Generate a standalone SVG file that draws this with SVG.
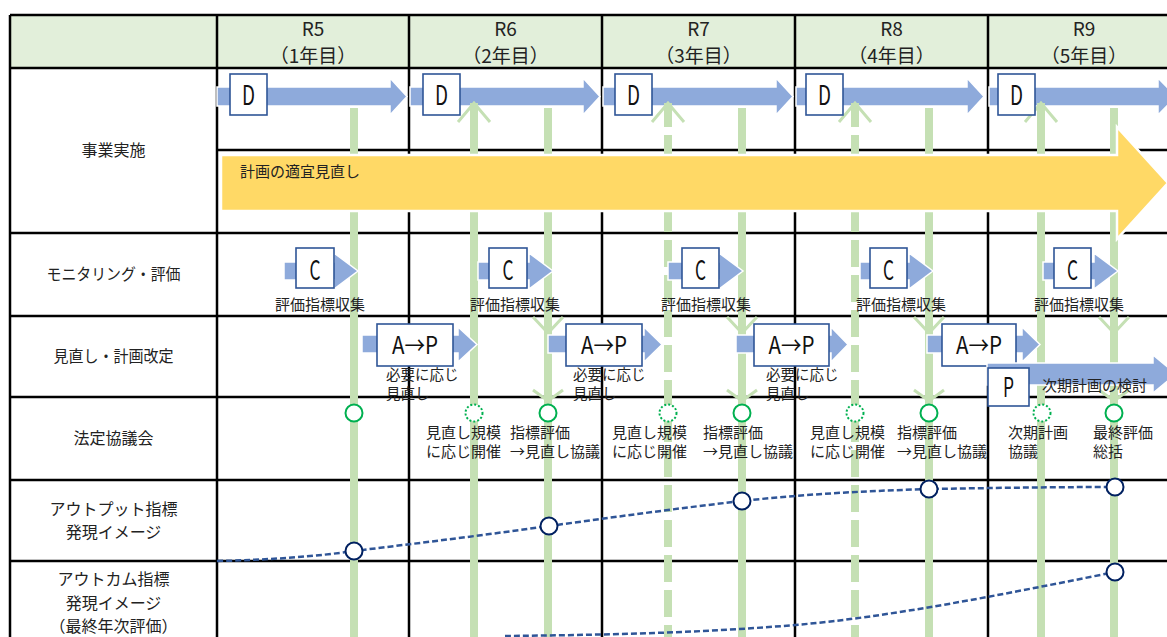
<svg xmlns="http://www.w3.org/2000/svg" width="1167" height="637" viewBox="0 0 1167 637">
<style>
.grid{stroke:#000;stroke-width:2.5;fill:none}
.gl{stroke:#c5e0b4;stroke-width:8;fill:none}
.gld{stroke:#c5e0b4;stroke-width:8;fill:none;stroke-dasharray:27 8;stroke-dashoffset:3}
.chev{stroke:#c5e0b4;stroke-width:3;fill:none}
.barrow{fill:#8eaadb;stroke:#fff;stroke-width:1.5}
.box{fill:#fff;stroke:#2f5597;stroke-width:1.6}
.bt{font-family:"Noto Sans CJK JP","Noto Sans",sans-serif;font-size:27px;fill:#111;text-anchor:middle}
.bta{font-family:"Noto Sans CJK JP","Noto Sans",sans-serif;font-size:24px;fill:#111;text-anchor:middle}
.t{font-family:"Noto Sans CJK JP","Noto Sans",sans-serif;font-size:15px;fill:#222}
.ts{font-family:"Noto Sans CJK JP","Noto Sans",sans-serif;font-size:14.5px;fill:#222}
.lab{font-family:"Noto Sans CJK JP","Noto Sans",sans-serif;font-size:16px;fill:#222;text-anchor:middle}
.hd{font-family:"Noto Sans CJK JP","Noto Sans",sans-serif;font-size:19px;fill:#222;text-anchor:middle}
.gc{fill:#fff;stroke:#00b050;stroke-width:2}
.gcd{fill:#fff;stroke:#00b050;stroke-width:2;stroke-dasharray:2 2}
.nc{fill:#fff;stroke:#002060;stroke-width:2}
.curve{fill:none;stroke:#2f5597;stroke-width:2.5;stroke-dasharray:6 3}
</style>
<rect x="0" y="0" width="1167" height="637" fill="#fff"/>
<g id="table">
<rect x="10" y="15" width="1160" height="53" fill="#e2efda"/>
<path class="grid" d="M10,15H1167M10,68H1167M217,150H1167M10,233H1167M10,316H1167M10,397H1167M10,480H1167M10,561H1167M10,15V637M217,15V637M409,15V637M602,15V637M795,15V637M988,15V637"/>
</g>
<g id="header">
<text class="hd" x="313" y="36">R5</text><text class="hd" x="313" y="63">（1年目）</text>
<text class="hd" x="505.5" y="36">R6</text><text class="hd" x="505.5" y="63">（2年目）</text>
<text class="hd" x="698.5" y="36">R7</text><text class="hd" x="698.5" y="63">（3年目）</text>
<text class="hd" x="891.5" y="36">R8</text><text class="hd" x="891.5" y="63">（4年目）</text>
<text class="hd" x="1084" y="36">R9</text><text class="hd" x="1084" y="63">（5年目）</text>
</g>
<g id="row-labels">
<text class="lab" x="113.5" y="156">事業実施</text>
<text class="lab" x="113.5" y="280" textLength="134" lengthAdjust="spacingAndGlyphs">モニタリング・評価</text>
<text class="lab" x="113.5" y="362" textLength="120" lengthAdjust="spacingAndGlyphs">見直し・計画改定</text>
<text class="lab" x="113.5" y="444">法定協議会</text>
<text class="lab" x="113.5" y="515">アウトプット指標</text>
<text class="lab" x="113.5" y="538">発現イメージ</text>
<text class="lab" x="113.5" y="585">アウトカム指標</text>
<text class="lab" x="113.5" y="609">発現イメージ</text>
<text class="lab" x="113.5" y="632">（最終年次評価）</text>
</g>
<g id="d-arrows">
<path class="barrow" d="M217,87H390V78L407,96.5L390,115V106H217Z"/>
<path class="barrow" d="M410,87H583V78L600,96.5L583,115V106H410Z"/>
<path class="barrow" d="M603,87H776V78L793,96.5L776,115V106H603Z"/>
<path class="barrow" d="M796,87H967V78L984,96.5L967,115V106H796Z"/>
<path class="barrow" d="M989,87H1158V78L1176,96.5L1158,115V106H989Z"/>
</g>
<g id="connectors">
<path class="gl" d="M354,108V637M548,108V637M742,108V637M929,108V637M1114,108V637M474,103V637M1041,103V637"/>
<path class="gld" d="M668,103V637M855,103V637"/>
<path class="chev" d="M458,122L474,103L490,122M652,122L668,103L684,122M839,122L855,103L871,122M1025,122L1041,103L1057,122"/>
<path class="chev" d="M533,317L548,333L563,317M727,317L742,333L757,317M914,317L929,333L944,317M1099,317L1114,333L1129,317"/>
<path class="chev" d="M533,390L548,401L563,390M727,390L742,401L757,390M914,390L929,401L944,390M1099,390L1114,401L1129,390"/>
<path class="curve" d="M217,561C270,560 320,556 354,551C420,543 485,535 549,526C615,517 680,508 742,501C805,494 866,491 929,489C990,488 1050,487 1115,487"/>
<path class="curve" d="M505,636C600,635 700,633 795,625S1000,595 1115,572"/>
</g>
<g id="d-boxes">
<g id="d1"><rect class="box" x="230" y="74" width="37" height="41"/><text class="bt" x="248.5" y="105" textLength="13" lengthAdjust="spacingAndGlyphs">D</text></g>
<g id="d2"><rect class="box" x="423" y="74" width="37" height="41"/><text class="bt" x="441.5" y="105" textLength="13" lengthAdjust="spacingAndGlyphs">D</text></g>
<g id="d3"><rect class="box" x="615" y="74" width="37" height="41"/><text class="bt" x="633.5" y="105" textLength="13" lengthAdjust="spacingAndGlyphs">D</text></g>
<g id="d4"><rect class="box" x="806" y="74" width="37" height="41"/><text class="bt" x="824.5" y="105" textLength="13" lengthAdjust="spacingAndGlyphs">D</text></g>
<g id="d5"><rect class="box" x="998" y="74" width="37" height="41"/><text class="bt" x="1016.5" y="105" textLength="13" lengthAdjust="spacingAndGlyphs">D</text></g>
</g>
<g id="plan-review">
<path d="M221,155H1117V127L1168,183L1117,239V211H221Z" fill="#ffd966" stroke="#fff" stroke-width="2.5"/>
<text class="t" x="240" y="177">計画の適宜見直し</text>
</g>
<g id="c-nodes">
<g id="c1"><path class="barrow" d="M284,262H334V253L358,271L334,289V280H284Z"/><rect class="box" x="296" y="248" width="38" height="40"/><text class="bt" x="315" y="280" textLength="11" lengthAdjust="spacingAndGlyphs">C</text><text class="t" x="320" y="310" text-anchor="middle">評価指標収集</text></g>
<g id="c2"><path class="barrow" d="M478,262H529V253L553,271L529,289V280H478Z"/><rect class="box" x="489" y="248" width="38" height="40"/><text class="bt" x="508" y="280" textLength="11" lengthAdjust="spacingAndGlyphs">C</text><text class="t" x="515" y="310" text-anchor="middle">評価指標収集</text></g>
<g id="c3"><path class="barrow" d="M668,262H719V253L743,271L719,289V280H668Z"/><rect class="box" x="682" y="248" width="37" height="40"/><text class="bt" x="700.5" y="280" textLength="11" lengthAdjust="spacingAndGlyphs">C</text><text class="t" x="706" y="310" text-anchor="middle">評価指標収集</text></g>
<g id="c4"><path class="barrow" d="M860,262H909V253L933,271L909,289V280H860Z"/><rect class="box" x="870" y="248" width="37" height="40"/><text class="bt" x="888.5" y="280" textLength="11" lengthAdjust="spacingAndGlyphs">C</text><text class="t" x="901" y="310" text-anchor="middle">評価指標収集</text></g>
<g id="c5"><path class="barrow" d="M1043,262H1094V253L1118,271L1094,289V280H1043Z"/><rect class="box" x="1054" y="248" width="37" height="40"/><text class="bt" x="1072.5" y="280" textLength="11" lengthAdjust="spacingAndGlyphs">C</text><text class="t" x="1079" y="310" text-anchor="middle">評価指標収集</text></g>
</g>
<g id="ap-nodes">
<g id="ap1"><path class="barrow" d="M362,335H458V327L477,344.5L458,362V353H362Z"/><rect class="box" x="377" y="324" width="76" height="42"/><text class="bta" x="415" y="354" textLength="46" lengthAdjust="spacingAndGlyphs">A→P</text><text class="ts" x="386" y="380">必要に応じ</text><text class="ts" x="386" y="399">見直し</text></g>
<g id="ap2"><path class="barrow" d="M548,335H644V327L662,344.5L644,362V353H548Z"/><rect class="box" x="566" y="324" width="76" height="42"/><text class="bta" x="604" y="354" textLength="46" lengthAdjust="spacingAndGlyphs">A→P</text><text class="ts" x="573" y="380">必要に応じ</text><text class="ts" x="573" y="399">見直し</text></g>
<g id="ap3"><path class="barrow" d="M736,335H831V327L848,344.5L831,362V353H736Z"/><rect class="box" x="754" y="324" width="75" height="42"/><text class="bta" x="791.5" y="354" textLength="46" lengthAdjust="spacingAndGlyphs">A→P</text><text class="ts" x="766" y="380">必要に応じ</text><text class="ts" x="766" y="399">見直し</text></g>
<g id="ap4"><path class="barrow" d="M927,335H1022V327L1040,344.5L1022,362V353H927Z"/><rect class="box" x="942" y="324" width="74" height="42"/><text class="bta" x="979" y="354" textLength="46" lengthAdjust="spacingAndGlyphs">A→P</text></g>
</g>
<g id="p-node">
<path class="barrow" d="M987,363H1153V355L1176,374L1153,393V385H987Z"/>
<rect class="box" x="988" y="368" width="41" height="38"/><text class="bt" x="1008.5" y="397" textLength="11" lengthAdjust="spacingAndGlyphs">P</text>
<text class="t" x="1042" y="391">次期計画の検討</text>
</g>
<g id="council">
<circle class="gc" cx="354" cy="413" r="8.5"/>
<circle class="gcd" cx="474" cy="413" r="8.5"/>
<circle class="gc" cx="548" cy="413" r="8.5"/>
<circle class="gcd" cx="668" cy="413" r="8.5"/>
<circle class="gc" cx="742" cy="413" r="8.5"/>
<circle class="gcd" cx="855" cy="413" r="8.5"/>
<circle class="gc" cx="929" cy="413" r="8.5"/>
<circle class="gcd" cx="1042" cy="413" r="8.5"/>
<circle class="gc" cx="1114" cy="413" r="8.5"/>
<text class="t" x="426" y="438">見直し規模</text><text class="t" x="426" y="457">に応じ開催</text>
<text class="t" x="510" y="438">指標評価</text><text class="t" x="510" y="457">→見直し協議</text>
<text class="t" x="612" y="438">見直し規模</text><text class="t" x="612" y="457">に応じ開催</text>
<text class="t" x="703" y="438">指標評価</text><text class="t" x="703" y="457">→見直し協議</text>
<text class="t" x="810" y="438">見直し規模</text><text class="t" x="810" y="457">に応じ開催</text>
<text class="t" x="897" y="438">指標評価</text><text class="t" x="897" y="457">→見直し協議</text>
<text class="t" x="1008" y="438">次期計画</text><text class="t" x="1008" y="457">協議</text>
<text class="t" x="1093" y="438">最終評価</text><text class="t" x="1093" y="457">総括</text>
</g>
<g id="indicators">
<circle class="nc" cx="354" cy="551" r="8.5"/>
<circle class="nc" cx="549" cy="526" r="8.5"/>
<circle class="nc" cx="742" cy="501" r="8.5"/>
<circle class="nc" cx="929" cy="489" r="8.5"/>
<circle class="nc" cx="1115" cy="487" r="8.5"/>
<circle class="nc" cx="1115" cy="572" r="8.5"/>
</g>
</svg>
